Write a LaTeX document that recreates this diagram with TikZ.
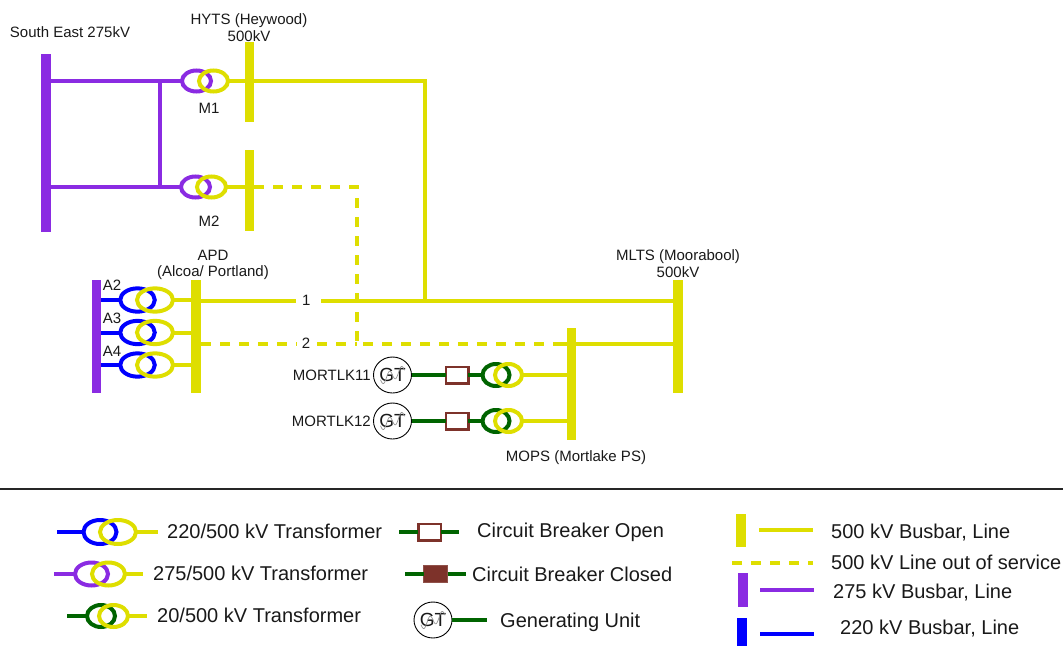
\documentclass[tikz,border=0pt]{standalone}
\usepackage{fontspec}
\setmainfont{Liberation Sans}
\usetikzlibrary{shapes.geometric,calc}
\definecolor{yel}{RGB}{222,222,0}
\definecolor{purp}{RGB}{138,43,226}
\definecolor{blu}{RGB}{0,0,255}
\definecolor{grn}{RGB}{0,100,0}
\definecolor{brn}{RGB}{125,50,42}
\definecolor{txt}{RGB}{25,25,25}
\begin{document}
\begin{tikzpicture}[x=1pt,y=-1pt,
  lbl/.style={font=\fontsize{15}{17}\selectfont, inner sep=0pt, text=txt, anchor=base},
  leg/.style={font=\fontsize{20}{22}\selectfont, inner sep=0pt, text=txt, anchor=base west},
  bus/.style={rectangle, inner sep=0pt, outer sep=0pt, minimum width=9.5pt},
  ln/.style={line width=4pt},
  dsh/.style={line width=4pt, dash pattern=on 10pt off 9pt},
  tr/.style={ellipse, draw, line width=4pt, inner sep=0pt, outer sep=0pt},
  gen/.style={ellipse, draw=black, line width=0.9pt, minimum width=38pt, minimum height=36pt, inner sep=0pt, outer sep=0pt, font=\fontsize{19}{20}\selectfont, text=txt},
  wave/.style={gray!85, line width=0.7pt},
  cbopen/.style={rectangle, draw=brn, line width=2.5pt, fill=white, minimum width=22.5pt, minimum height=16.5pt, inner sep=0pt, outer sep=0pt},
  cbclosed/.style={rectangle, draw=brn!85!white, line width=1pt, fill=brn, minimum width=24pt, minimum height=17pt, inner sep=0pt, outer sep=0pt}
]
\useasboundingbox (0,0) rectangle (1063,646);

% ---------------- South East / HYTS ----------------
\node[bus, fill=purp, minimum width=10pt, minimum height=178pt] (se) at (46,143) {};
\node[bus, fill=yel, minimum height=80pt] (hy1) at (249.5,82) {};
\node[bus, fill=yel, minimum height=81pt] (hy2) at (249.5,190.5) {};

\node[tr, draw=purp, minimum width=29pt, minimum height=21pt] (m1p) at (196.5,81) {};
\node[tr, draw=yel, minimum width=29pt, minimum height=21pt] (m1y) at (213.5,81) {};
\node[tr, draw=purp, minimum width=29pt, minimum height=21pt] (m2p) at (195.5,187) {};
\node[tr, draw=yel, minimum width=29pt, minimum height=21pt] (m2y) at (211.5,187) {};

\coordinate (pj1) at (160,81);
\coordinate (pj2) at (160,187);
\draw[ln, purp] (se.east |- m1p.west) -- (m1p.west);
\draw[ln, purp] (se.east |- m2p.west) -- (m2p.west);
\draw[ln, purp] (pj1) -- (pj2);

\node[lbl] (selbl) at (70,37.4) {South East 275kV};
\node[lbl] (hylbl) at (249,24.4) {HYTS (Heywood)};
\node[lbl] (hykv) at (249,41.2) {500kV};
\node[lbl] (m1lbl) at (209,113.7) {M1};
\node[lbl] (m2lbl) at (209,226) {M2};

% ---------------- APD ----------------
\node[bus, fill=purp, minimum height=113pt] (apdp) at (96.5,336.5) {};
\node[bus, fill=yel, minimum width=10pt, minimum height=113pt] (apd) at (196,336.5) {};
\foreach \n/\y in {a2/300, a3/332.5, a4/365}{
  \node[tr, draw=blu, minimum width=34.5pt, minimum height=23.3pt] (\n b) at (137.5,\y) {};
  \node[tr, draw=yel, minimum width=36pt, minimum height=23.3pt] (\n y) at (155,\y) {};
  \draw[ln, blu] (apdp.east |- \n b.west) -- (\n b.west);
  \draw[ln, yel] (\n y.east) -- (apd.west |- \n y.east);
}
\node[lbl] (a2lbl) at (112,290) {A2};
\node[lbl] (a3lbl) at (112,323.4) {A3};
\node[lbl] (a4lbl) at (112,356) {A4};
\node[lbl] (apdlbl) at (213,260) {APD};
\node[lbl] (apdlbl2) at (213,276.7) {(Alcoa/ Portland)};

% ---------------- MLTS / MOPS ----------------
\node[bus, fill=yel, minimum width=10pt, minimum height=113pt] (ml) at (678,336.5) {};
\node[bus, fill=yel, minimum height=112pt] (mo) at (571.5,384) {};
\node[lbl] (mllbl) at (678,260.4) {MLTS (Moorabool)};
\node[lbl] (mlkv) at (678,277.1) {500kV};
\node[lbl] (molbl) at (576,461.2) {MOPS (Mortlake PS)};

% line 1
\node[lbl] (l1) at (306.3,305.4) {1};
\coordinate (l1a) at (296,301);
\coordinate (l1b) at (321,301);
\coordinate (j1) at (425,81);
\coordinate (j2) at (425,301);
\draw[ln, yel] (m1y.east) -- (j1) -- (j2);
\draw[ln, yel] (apd.east |- l1a) -- (l1a);
\draw[ln, yel] (l1b) -- (ml.west |- l1b);

% line 2 (out of service)
\node[lbl] (l2) at (306,348.4) {2};
\coordinate (l2a) at (297,344);
\coordinate (l2b) at (317,344);
\coordinate (k1) at (357,187);
\coordinate (k2) at (357,344);
\coordinate (k3) at (553,344);
\draw[ln, yel] (m2y.east) -- (hy2.east |- m2y.east);
\draw[dsh, yel] (hy2.east |- m2y.east) -- (k1) -- (k2) -- (k3);
\draw[dsh, yel] (apd.east |- l2a) -- (l2a);
\draw[dsh, yel] (l2b) -- (k2);
\draw[ln, yel] (k3) -- (ml.west |- k3);

% generators
\foreach \g/\y/\name in {1/375/MORTLK11, 2/421/MORTLK12}{
  \node[gen] (g\g) at (392.5,\y) {GT};
  \draw[wave, shift={(g\g.center)}] plot[domain=-12:12, samples=30] (\x, {-0.4*\x + 5*sin(\x*30)});
  \node[cbopen] (cb\g) at (457,\y) {};
  \node[tr, draw=grn, minimum width=27pt, minimum height=22pt] (gt\g) at (496,\y) {};
  \node[tr, draw=yel, minimum width=27pt, minimum height=22pt] (gy\g) at (508.5,\y) {};
  \draw[ln, grn] (g\g.east) -- (cb\g.west);
  \draw[ln, grn] (cb\g.east) -- (gt\g.west);
  \draw[ln, yel] (gy\g.east) -- (mo.west |- gy\g.east);
  \node[lbl, anchor=base east] (gl\g) at (371,\y+5.4) {\name};
}

% ---------------- separator ----------------
\coordinate (sepl) at (0,489);
\coordinate (sepr) at (1063,489);
\draw[line width=2pt, black!85] (sepl) -- (sepr);

% ---------------- Legend: transformers ----------------
\node[tr, draw=blu, minimum width=33pt, minimum height=24pt] (lt1a) at (100,532) {};
\node[tr, draw=yel, minimum width=36pt, minimum height=24pt] (lt1b) at (118,532) {};
\coordinate (lt1l) at (57,532);
\coordinate (lt1r) at (158,532);
\draw[ln, blu] (lt1l) -- (lt1a.west);
\draw[ln, yel] (lt1b.east) -- (lt1r);
\node[leg] (lt1t) at (167,538.7) {220/500 kV Transformer};

\node[tr, draw=purp, minimum width=33pt, minimum height=23pt] (lt2a) at (91.5,574) {};
\node[tr, draw=yel, minimum width=33pt, minimum height=23pt] (lt2b) at (108.5,574) {};
\coordinate (lt2l) at (54,574);
\coordinate (lt2r) at (143,574);
\draw[ln, purp] (lt2l) -- (lt2a.west);
\draw[ln, yel] (lt2b.east) -- (lt2r);
\node[leg] (lt2t) at (153,580.7) {275/500 kV Transformer};

\node[tr, draw=grn, minimum width=28pt, minimum height=22pt] (lt3a) at (101,616) {};
\node[tr, draw=yel, minimum width=29pt, minimum height=22pt] (lt3b) at (113.5,616) {};
\coordinate (lt3l) at (67,616);
\coordinate (lt3r) at (147,616);
\draw[ln, grn] (lt3l) -- (lt3a.west);
\draw[ln, yel] (lt3b.east) -- (lt3r);
\node[leg] (lt3t) at (157,622.7) {20/500 kV Transformer};

% ---------------- Legend: breakers / generator ----------------
\node[cbopen] (lc1) at (429.5,532) {};
\coordinate (lc1l) at (399,532);
\coordinate (lc1r) at (459,532);
\draw[ln, grn] (lc1l) -- (lc1.west);
\draw[ln, grn] (lc1.east) -- (lc1r);
\node[leg] (lc1t) at (477,537.7) {Circuit Breaker Open};

\node[cbclosed] (lc2) at (435.5,574) {};
\coordinate (lc2l) at (405,574);
\coordinate (lc2r) at (466,574);
\draw[ln, grn] (lc2l) -- (lc2.west);
\draw[ln, grn] (lc2.east) -- (lc2r);
\node[leg] (lc2t) at (472,581.7) {Circuit Breaker Closed};

\node[gen] (lg) at (433,620) {GT};
\draw[wave, shift={(lg.center)}] plot[domain=-12:12, samples=30] (\x, {-0.4*\x + 5*sin(\x*30)});
\coordinate (lgr) at (487,620);
\draw[ln, grn] (lg.east) -- (lgr);
\node[leg] (lgt) at (500,627.2) {Generating Unit};

% ---------------- Legend: busbars / lines ----------------
\node[bus, fill=yel, minimum width=10pt, minimum height=33pt] (lb1) at (741,530.5) {};
\coordinate (lb1a) at (759,530);
\coordinate (lb1b) at (813,530);
\draw[ln, yel] (lb1a) -- (lb1b);
\node[leg] (lb1t) at (831,538.7) {500 kV Busbar, Line};

\coordinate (lb2a) at (732,563);
\coordinate (lb2b) at (813,563);
\draw[dsh, yel] (lb2a) -- (lb2b);
\node[leg] (lb2t) at (831,569.2) {500 kV Line out of service};

\node[bus, fill=purp, minimum width=10pt, minimum height=34pt] (lb3) at (743,590) {};
\coordinate (lb3a) at (760,590);
\coordinate (lb3b) at (814,590);
\draw[ln, purp] (lb3a) -- (lb3b);
\node[leg] (lb3t) at (833,598) {275 kV Busbar, Line};

\node[bus, fill=blu, minimum width=10pt, minimum height=28pt] (lb4) at (742,632) {};
\coordinate (lb4a) at (760,634);
\coordinate (lb4b) at (814,634);
\draw[ln, blu] (lb4a) -- (lb4b);
\node[leg] (lb4t) at (840,634) {220 kV Busbar, Line};
\end{tikzpicture}
\end{document}
